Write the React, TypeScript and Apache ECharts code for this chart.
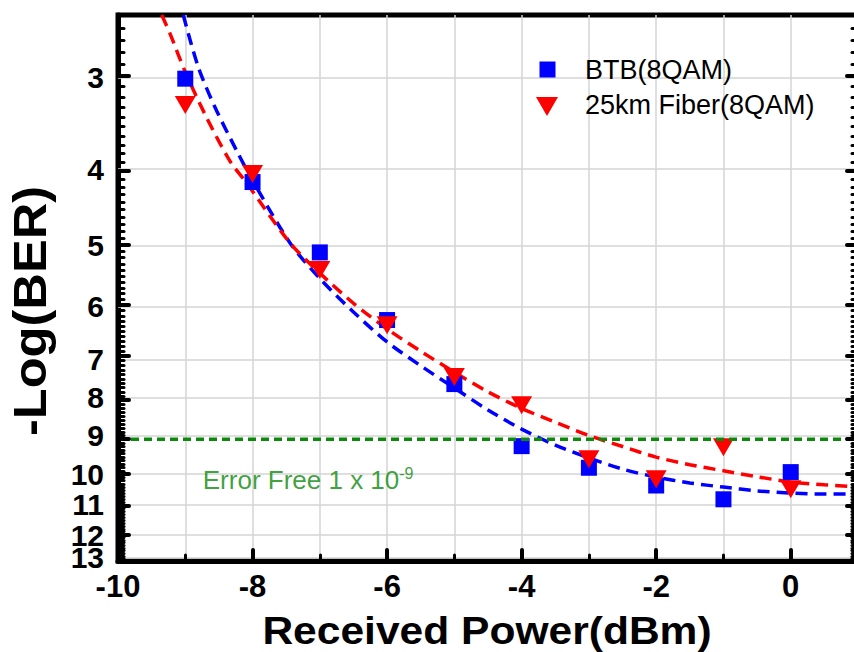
import React, { useEffect, useRef } from 'react';
import * as echarts from 'echarts';

// measured points
const powerDbm = [-9, -8, -7, -6, -5, -4, -3, -2, -1, 0];
const btbNegLogBer = [3.03, 4.14, 5.12, 6.28, 7.62, 9.19, 9.81, 10.35, 10.79, 9.94];
const fiberNegLogBer = [3.28, 4.04, 5.4, 6.38, 7.46, 8.12, 9.56, 10.16, 9.22, 10.47];

// fitted dashed curves
const btbFitPower = [-9.03, -8.81, -8.56, -8.24, -8.0, -7.44, -7.0, -6.5, -6.0, -5.5, -5.0, -4.5, -4.0, -3.5, -3.0, -2.5, -2.0, -1.5, -1.0, -0.5, 0, 0.5, 1];
const btbFitNegLogBer = [2.5, 2.92, 3.3, 3.76, 4.12, 4.98, 5.54, 6.13, 6.71, 7.21, 7.71, 8.24, 8.73, 9.16, 9.52, 9.85, 10.09, 10.27, 10.4, 10.52, 10.59, 10.62, 10.62];
const fiberFitPower = [-9.35, -9.23, -9.0, -8.71, -8.34, -8.09, -7.44, -7.0, -6.5, -6.0, -5.5, -5.0, -4.5, -4.0, -3.5, -3.0, -2.5, -2.0, -1.5, -1.0, -0.5, 0, 0.5, 1];
const fiberFitNegLogBer = [2.5, 2.64, 2.97, 3.37, 3.88, 4.15, 4.98, 5.45, 5.97, 6.45, 6.9, 7.35, 7.8, 8.2, 8.55, 8.9, 9.2, 9.5, 9.72, 9.9, 10.08, 10.24, 10.33, 10.39];

// axes
const yMajorTicks = [3, 4, 5, 6, 7, 8, 9, 10, 11, 12, 13];
const xMajorTicks = [-10, -8, -6, -4, -2, 0];
const xMinorTicks = [-9, -7, -5, -3, -1];
const Y_MIN = 2.5;
const Y_MAX = 13;
const X_MIN = -10;
const X_MAX = 1;

const errorFreeLevel = 9;
const errorFreeLabelAt = [-8.74, 10.15];

const seriesNames = ['BTB(8QAM)', '25km Fiber(8QAM)'];

const yMinorTicks: number[] = [];
for (let i = 25; i < 130; i++) {
  if (i % 10 !== 0) yMinorTicks.push(i / 10);
}

const T = (v: number) => Math.log10(v);
const FONT = '"Liberation Sans", Arial, Helvetica, sans-serif';
const GREEN = '#0b8a0b';
const BLUE = '#0000ff';
const RED = '#ff0000';

// layout of the plotting area
const CHART_W = 862;
const CHART_H = 652;
const GRID = { left: 118, right: 4, top: 15, bottom: 91 };
const GRID_W = CHART_W - GRID.left - GRID.right;
const GRID_H = CHART_H - GRID.top - GRID.bottom;
const PX_X = (X_MAX - X_MIN) / GRID_W; // data units per pixel on x
const PX_Y = (T(Y_MAX) - T(Y_MIN)) / GRID_H; // data units per pixel on y

export default function App() {
  const ref = useRef<HTMLDivElement>(null);

  useEffect(() => {
    if (!ref.current) return;
    document.body.style.overflow = 'hidden';
    const chart = echarts.init(ref.current, undefined, { renderer: 'svg' });

    const tickSeries = (segs: number[][][], width: number) => ({
      type: 'line',
      data: [],
      silent: true,
      clip: false,
      z: 8,
      markLine: {
        silent: true,
        symbol: 'none',
        z: 8,
        animation: false,
        lineStyle: { color: '#000', width, type: 'solid', cap: 'round' },
        label: { show: false },
        emphasis: { disabled: true },
        data: segs.map((s) => [{ coord: s[0] }, { coord: s[1] }]),
      },
    });

    const yTicksAt = (vals: number[], xEdge: number, lenPx: number) =>
      vals.map((v) => [
        [xEdge, T(v)],
        [xEdge + lenPx * PX_X, T(v)],
      ]);
    const xTicksAt = (vals: number[], lenPx: number) =>
      vals.map((v) => [
        [v, T(Y_MAX)],
        [v, T(Y_MAX) - lenPx * PX_Y],
      ]);

    const option: any = {
      animation: false,
      backgroundColor: '#fff',
      textStyle: { fontFamily: FONT },
      grid: {
        ...GRID,
        show: true,
        borderColor: '#000',
        borderWidth: 5,
        backgroundColor: 'transparent',
      },
      xAxis: {
        type: 'value',
        min: X_MIN,
        max: X_MAX,
        interval: 1,
        axisLine: { show: true, onZero: false, lineStyle: { color: '#000', width: 5 } },
        axisTick: { show: false },
        splitLine: { show: true, lineStyle: { color: '#d4d4d4', width: 1.5 } },
        axisLabel: {
          fontSize: 31,
          fontWeight: 'bold',
          color: '#000',
          fontFamily: FONT,
          margin: 10,
          formatter: (v: number) => (xMajorTicks.indexOf(v) >= 0 ? String(v) : ''),
        },
      },
      yAxis: {
        type: 'value',
        inverse: true,
        min: T(Y_MIN),
        max: T(Y_MAX),
        axisLine: { show: true, onZero: false, lineStyle: { color: '#000', width: 5 } },
        axisTick: { show: false },
        axisLabel: { show: false },
        splitLine: { show: false },
      },
      graphic: [
        {
          type: 'text',
          x: 487,
          y: 631,
          scaleX: 1.12,
          style: {
            text: 'Received Power(dBm)',
            fontSize: 38,
            fontWeight: 'bold',
            fontFamily: FONT,
            fill: '#000',
            textAlign: 'center',
            textVerticalAlign: 'middle',
          },
        },
        {
          type: 'text',
          x: 30,
          y: 311,
          rotation: Math.PI / 2,
          scaleX: 1.1,
          style: {
            text: '-Log(BER)',
            fontSize: 46,
            fontWeight: 'bold',
            fontFamily: FONT,
            fill: '#000',
            textAlign: 'center',
            textVerticalAlign: 'middle',
          },
        },
        // legend
        {
          type: 'rect',
          shape: { x: 539.5, y: 61.5, width: 16, height: 16 },
          style: { fill: BLUE },
          z: 20,
        },
        {
          type: 'polygon',
          shape: { points: [[536, 97], [558, 97], [547, 116]] },
          style: { fill: RED },
          z: 20,
        },
        {
          type: 'text',
          x: 585,
          y: 70,
          z: 20,
          style: {
            text: seriesNames[0],
            fontSize: 27,
            fontFamily: FONT,
            fill: '#000',
            textAlign: 'left',
            textVerticalAlign: 'middle',
          },
        },
        {
          type: 'text',
          x: 585,
          y: 105,
          z: 20,
          style: {
            text: seriesNames[1],
            fontSize: 27,
            fontFamily: FONT,
            fill: '#000',
            textAlign: 'left',
            textVerticalAlign: 'middle',
          },
        },
      ],
      series: [
        {
          type: 'line',
          data: [],
          silent: true,
          z: 1,
          markLine: {
            silent: true,
            z: 1,
            symbol: 'none',
            lineStyle: { color: '#d4d4d4', width: 1.5, type: 'solid' },
            emphasis: { disabled: true },
            label: {
              show: true,
              position: 'start',
              distance: 14,
              formatter: '{b}',
              fontSize: 30,
              fontWeight: 'bold',
              color: '#000',
              fontFamily: FONT,
            },
            data: yMajorTicks.map((v) => ({ yAxis: T(v), name: String(v) })),
          },
        },
        {
          type: 'line',
          data: btbFitPower.map((x, i) => [x, T(btbFitNegLogBer[i])]),
          symbol: 'none',
          smooth: 0.3,
          lineStyle: { color: BLUE, width: 3.5, type: [12, 7] },
          silent: true,
          z: 2,
        },
        {
          type: 'line',
          data: fiberFitPower.map((x, i) => [x, T(fiberFitNegLogBer[i])]),
          symbol: 'none',
          smooth: 0.3,
          lineStyle: { color: RED, width: 3.5, type: [12, 7] },
          silent: true,
          z: 2,
        },
        {
          name: seriesNames[0],
          type: 'scatter',
          data: powerDbm.map((x, i) => [x, T(btbNegLogBer[i])]),
          symbol: 'rect',
          symbolSize: 16,
          itemStyle: { color: BLUE, opacity: 1 },
          z: 3,
        },
        {
          name: seriesNames[1],
          type: 'scatter',
          data: powerDbm.map((x, i) => [x, T(fiberNegLogBer[i])]),
          symbol: 'triangle',
          symbolRotate: 180,
          symbolSize: [21, 18],
          itemStyle: { color: RED, opacity: 1 },
          z: 4,
        },
        {
          type: 'line',
          data: [
            [X_MIN, T(errorFreeLevel)],
            [X_MAX, T(errorFreeLevel)],
          ],
          symbol: 'none',
          lineStyle: { color: GREEN, width: 3.5, type: [8, 5] },
          silent: true,
          z: 5,
        },
        {
          type: 'scatter',
          data: [[errorFreeLabelAt[0], T(errorFreeLabelAt[1])]],
          symbolSize: 0,
          silent: true,
          z: 5,
          label: {
            show: true,
            position: 'right',
            distance: 0,
            formatter: '{a|Error Free 1 x 10}{b|-9}',
            rich: {
              a: { fontSize: 26, color: GREEN, fontFamily: FONT, lineHeight: 28, verticalAlign: 'bottom' },
              b: { fontSize: 16, color: GREEN, fontFamily: FONT, lineHeight: 28, verticalAlign: 'top' },
            },
          },
        },
        tickSeries(yTicksAt(yMajorTicks, X_MIN, 11), 4),
        tickSeries(yTicksAt(yMinorTicks, X_MIN, 6), 3),
        tickSeries(yTicksAt(yMajorTicks, X_MAX, -11), 4),
        tickSeries(yTicksAt(yMinorTicks, X_MAX, -6), 3),
        tickSeries(xTicksAt(xMajorTicks, 11), 4),
        tickSeries(xTicksAt(xMinorTicks, 6), 3),
      ],
    };

    chart.setOption(option);
    return () => chart.dispose();
  }, []);

  return (
    <div
      ref={ref}
      style={{ position: 'absolute', left: 0, top: 0, width: CHART_W, height: CHART_H, background: '#fff' }}
    />
  );
}
